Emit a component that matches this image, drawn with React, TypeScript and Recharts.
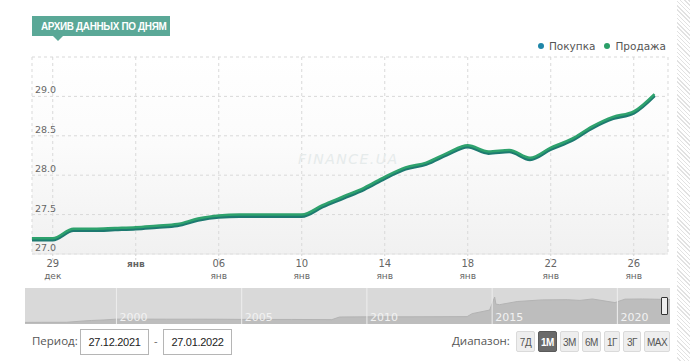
import React from "react"
import {
  ComposedChart,
  Line,
  XAxis,
  YAxis,
  CartesianGrid,
  AreaChart,
  Area,
  ReferenceLine,
} from "recharts"

// daily rates, 28.12.2021 - 27.01.2022
const dates = [
  "28.12", "29.12", "30.12", "31.12", "01.01", "02.01", "03.01", "04.01",
  "05.01", "06.01", "07.01", "08.01", "09.01", "10.01", "11.01", "12.01",
  "13.01", "14.01", "15.01", "16.01", "17.01", "18.01", "19.01", "20.01",
  "21.01", "22.01", "23.01", "24.01", "25.01", "26.01", "27.01",
]
const sellRates = [
  27.2, 27.2, 27.32, 27.32, 27.33, 27.34, 27.36, 27.38,
  27.45, 27.49, 27.5, 27.5, 27.5, 27.5, 27.62, 27.73,
  27.84, 27.98, 28.1, 28.16, 28.28, 28.38, 28.3, 28.32,
  28.22, 28.35, 28.46, 28.62, 28.74, 28.81, 29.03,
]
const buyRates = [
  27.18, 27.18, 27.3, 27.3, 27.31, 27.32, 27.34, 27.36,
  27.43, 27.47, 27.48, 27.48, 27.48, 27.48, 27.6, 27.71,
  27.82, 27.96, 28.08, 28.14, 28.26, 28.36, 28.28, 28.3,
  28.2, 28.33, 28.44, 28.6, 28.72, 28.79, 29.01,
]
const yTicks = [27, 27.5, 28, 28.5, 29, 29.5]
const xTickDays = [1, 5, 9, 13, 17, 21, 25, 29]
const monthNames: Record<string, string> = { "12": "дек", "01": "янв" }
const seriesNames = ["Покупка", "Продажа"]
const seriesColors = ["#1f86a8", "#2a9f68"]

// navigator history (year, rate)
const navYears = [
  1996.35, 1997, 1998, 1998.7, 1999, 1999.5, 2000, 2001, 2002, 2003, 2004, 2005,
  2006, 2007, 2008.6, 2008.9, 2009, 2010, 2011, 2012, 2013, 2014, 2014.2,
  2014.9, 2015.1, 2015.15, 2015.3, 2016, 2017, 2018, 2018.5, 2019, 2019.9,
  2020.3, 2021, 2022.1,
]
const navRates = [
  1.8, 1.86, 1.9, 3.4, 3.9, 4.5, 5.4, 5.4, 5.33, 5.33, 5.31, 5.12,
  5.05, 5.05, 4.85, 7.7, 7.8, 7.95, 7.96, 7.99, 8.1, 8.2, 11.5,
  15.5, 30, 22, 21.5, 25, 26.8, 27, 26.2, 27.8, 23.8,
  27.6, 27.8, 27.2,
]
const navYearLabels = [2000, 2005, 2010, 2015, 2020]
const rangeButtons = ["7Д", "1М", "3М", "6М", "1Г", "3Г", "MAX"]
const rangeWidths = [19, 19, 19, 19, 16, 18, 26]

const chartData = dates.map((date, i) => ({ idx: i, date, buy: buyRates[i], sell: sellRates[i] }))
const navData = navYears.map((year, i) => ({ year, rate: navRates[i] }))

const tickFont = "'DejaVu Sans', Verdana, sans-serif"
const condFont = "'Liberation Sans', Arial, sans-serif"

function XTick({ x, y, payload }: any) {
  const [day, mon] = dates[payload.value].split(".")
  if (day === "02" && mon === "01") {
    return (
      <text x={x} y={y + 5} textAnchor="middle" fontFamily={tickFont} fontSize={9} fontWeight="bold" fill="#666">
        {monthNames[mon]}
      </text>
    )
  }
  return (
    <g fontFamily={tickFont} fill="#666" textAnchor="middle">
      <text x={x} y={y + 5} fontSize={10}>{day}</text>
      <text x={x} y={y + 17} fontSize={9}>{monthNames[mon]}</text>
    </g>
  )
}

function YTick({ x, y, payload }: any) {
  if (payload.value > 29.2) return null
  return (
    <text x={x} y={y - 3} fontFamily={tickFont} fontSize={9.5} fill="#666" textAnchor="start">
      {payload.value.toFixed(1)}
    </text>
  )
}

export default function App() {
  return (
    <div style={{ position: "absolute", left: 0, top: 0, width: 690, height: 361, background: "#fff", overflow: "hidden" }}>
      {/* title badge */}
      <div
        style={{
          position: "absolute", left: 32, top: 16, width: 138, height: 20, background: "#5aa897",
          overflow: "visible", whiteSpace: "nowrap",
        }}
      >
        <span
          style={{
            display: "inline-block", marginLeft: 9, color: "#fff", fontFamily: condFont, fontWeight: "bold",
            fontSize: 11, lineHeight: "20px", letterSpacing: -0.35, transform: "scaleX(0.9)", transformOrigin: "left center",
          }}
        >
          АРХИВ ДАННЫХ ПО ДНЯМ
        </span>
      </div>
      <div
        style={{
          position: "absolute", left: 53, top: 36, width: 0, height: 0,
          borderLeft: "5px solid transparent", borderRight: "5px solid transparent", borderTop: "5px solid #5aa897",
        }}
      />

      {/* legend */}
      <div
        style={{
          position: "absolute", right: 24, top: 40, display: "flex", gap: 9,
          fontFamily: tickFont, fontSize: 10.5, color: "#555",
        }}
      >
        {seriesNames.map((n, i) => (
          <span key={n} style={{ display: "flex", alignItems: "center", gap: 5 }}>
            <span style={{ width: 6, height: 6, borderRadius: 3, background: seriesColors[i], display: "inline-block" }} />
            {n}
          </span>
        ))}
      </div>

      <div style={{ position: "absolute", left: 0, top: 0 }}>
        <ComposedChart width={690} height={290} data={chartData} margin={{ top: 57, right: 22, left: 32, bottom: 6 }}>
          <defs>
            <linearGradient id="plotBg" x1="0" y1="0" x2="0" y2="1">
              <stop offset="0%" stopColor="#ffffff" />
              <stop offset="45%" stopColor="#fbfbfb" />
              <stop offset="100%" stopColor="#f1f1f1" />
            </linearGradient>
          </defs>
          <CartesianGrid stroke="#d9d9d9" strokeDasharray="3 3" fill="url(#plotBg)" />
          <XAxis
            dataKey="idx"
            type="number"
            domain={[0, 30.65]}
            ticks={xTickDays}
            allowDataOverflow
            height={30}
            axisLine={{ stroke: "#e6e6e6" }}
            tickLine={{ stroke: "#d4d4d4", strokeDasharray: "2 2" }}
            tickSize={6}
            tick={<XTick />}
          />
          <YAxis
            type="number"
            domain={[27, 29.5]}
            ticks={yTicks}
            mirror
            width={40}
            axisLine={false}
            tickLine={false}
            tickSize={0}
            tickMargin={3}
            tick={<YTick />}
          />
          <Line
            type="monotone"
            dataKey="buy"
            name={seriesNames[0]}
            stroke="#1d7a70"
            strokeWidth={3.5}
            dot={false}
            isAnimationActive={false}
          />
          <Line
            type="monotone"
            dataKey="sell"
            name={seriesNames[1]}
            stroke="#2ea26d"
            strokeWidth={2.5}
            dot={false}
            isAnimationActive={false}
          />
        </ComposedChart>
      </div>

      {/* watermark */}
      <div
        style={{
          position: "absolute", left: 298, top: 151, fontFamily: "'DejaVu Sans', sans-serif", fontStyle: "italic",
          fontSize: 14, letterSpacing: 1.5, color: "#e6ebeb", pointerEvents: "none",
        }}
      >
        FINANCE.UA
      </div>

      {/* navigator */}
      <div style={{ position: "absolute", left: 25, top: 288 }}>
        <AreaChart width={645} height={36} data={navData} margin={{ top: 0, right: 0, left: 0, bottom: 0 }}>
          <CartesianGrid horizontal={false} vertical={false} fill="#d9d9d9" stroke="none" />
          <XAxis dataKey="year" type="number" domain={[1996.35, 2022.1]} hide />
          <YAxis type="number" domain={[0, 40]} hide />
          <Area
            type="linear"
            dataKey="rate"
            stroke="#b3b3b3"
            strokeWidth={1}
            fill="#bdbdbd"
            fillOpacity={1}
            isAnimationActive={false}
          />
          {navYearLabels.map((yr) => (
            <ReferenceLine
              key={yr}
              x={yr}
              stroke="#eeeeee"
              strokeWidth={1}
              label={{ value: String(yr), position: "insideBottomLeft", fill: "#f2f2f2", fontSize: 11, fontFamily: tickFont, offset: 3 }}
            />
          ))}
        </AreaChart>
      </div>
      <div
        style={{
          position: "absolute", left: 661, top: 297, width: 5, height: 16, border: "1px solid #333",
          background: "#eee", borderRadius: 1,
        }}
      />

      {/* right hatch strip */}
      <div
        style={{
          position: "absolute", left: 677, top: 0, width: 13, height: 361,
          background: "repeating-linear-gradient(45deg, #ffffff 0px, #ffffff 2px, #e2e2e2 2px, #e2e2e2 3px)",
        }}
      />

      {/* period controls */}
      <div style={{ position: "absolute", left: 32, top: 333, fontFamily: "'Open Sans', sans-serif", fontSize: 11.5, color: "#555" }}>
        Период:
      </div>
      {["27.12.2021", "27.01.2022"].map((v, i) => (
        <div
          key={v}
          style={{
            position: "absolute", left: 80 + i * 83, top: 329, width: 67, height: 24, border: "1px solid #b5b5b5",
            fontFamily: condFont, fontSize: 11, color: "#222", lineHeight: "24px", textAlign: "center",
            letterSpacing: -0.3,
          }}
        >
          {v}
        </div>
      ))}
      <div style={{ position: "absolute", left: 154, top: 333, fontFamily: "'Open Sans', sans-serif", fontSize: 11, color: "#666" }}>-</div>

      <div style={{ position: "absolute", left: 452, top: 333, fontFamily: "'Open Sans', sans-serif", fontSize: 11.5, color: "#555" }}>
        Диапазон:
      </div>
      <div style={{ position: "absolute", left: 516, top: 331, display: "flex", gap: 3 }}>
        {rangeButtons.map((b, i) => (
          <div
            key={b}
            style={{
              width: rangeWidths[i], height: 21, lineHeight: "21px", textAlign: "center", boxSizing: "border-box",
              fontFamily: condFont, fontSize: 10, letterSpacing: -0.5,
              background: b === "1М" ? "#6a6a6a" : "#eeeeee",
              color: b === "1М" ? "#fff" : "#555",
              fontWeight: b === "1М" ? "bold" : "normal",
              border: "1px solid " + (b === "1М" ? "#5a5a5a" : "#dadada"),
              borderRadius: 2,
            }}
          >
            {b}
          </div>
        ))}
      </div>
    </div>
  )
}
